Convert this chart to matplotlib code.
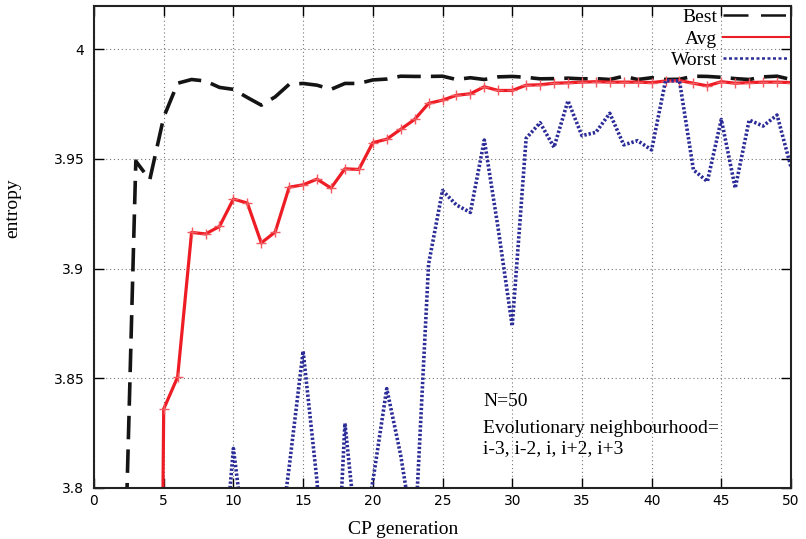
import numpy as np
import matplotlib
matplotlib.use('Agg')
import matplotlib.pyplot as plt
from matplotlib.lines import Line2D

# CP generation 1..50
generation = np.arange(1, 51)

best = [3.600, 3.712, 3.949, 3.9405, 3.969, 3.9845, 3.9862, 3.9855, 3.9826, 3.9817,
        3.978, 3.9745, 3.9783, 3.984, 3.9844, 3.9836, 3.9817, 3.9844, 3.9844, 3.986,
        3.9864, 3.9877, 3.9876, 3.9876, 3.9877, 3.9862, 3.987, 3.9862, 3.9874, 3.9876,
        3.9872, 3.9865, 3.9866, 3.9868, 3.9865, 3.9866, 3.9862, 3.9877, 3.9862, 3.987,
        3.9862, 3.9863, 3.9877, 3.9876, 3.9872, 3.9866, 3.9862, 3.9874, 3.9877, 3.9862]

avg = [2.95, 3.02, 3.08, 3.12, 3.836, 3.8506, 3.9165, 3.9158, 3.9192, 3.9317,
       3.9299, 3.9117, 3.9167, 3.9371, 3.9382, 3.9408, 3.9367, 3.9455, 3.9452, 3.9574,
       3.959, 3.9635, 3.968, 3.9753, 3.9768, 3.979, 3.9797, 3.9829, 3.9812, 3.9812,
       3.9836, 3.9838, 3.9845, 3.9847, 3.985, 3.9852, 3.985, 3.985, 3.985, 3.9848,
       3.9855, 3.9857, 3.9845, 3.9833, 3.9852, 3.9845, 3.9848, 3.985, 3.985, 3.9848]

worst = [3.60, 3.62, 3.64, 3.62, 3.66, 3.68, 3.70, 3.72, 3.743, 3.818,
         3.767, 3.74, 3.76, 3.8095, 3.8624, 3.803, 3.70, 3.8295, 3.768, 3.803,
         3.8453, 3.815, 3.775, 3.902, 3.9356, 3.929, 3.9256, 3.9586, 3.918, 3.8738,
         3.9594, 3.9665, 3.9553, 3.9765, 3.9606, 3.9621, 3.9708, 3.9564, 3.9583, 3.9541,
         3.9856, 3.9856, 3.945, 3.9397, 3.968, 3.9367, 3.9677, 3.965, 3.97, 3.9462]

x_ticks = np.arange(0, 51, 5)
y_ticks = [3.8, 3.85, 3.9, 3.95, 4.0]
y_tick_labels = ['3.8', '3.85', '3.9', '3.95', '4']

serif = 'Liberation Serif'
blue = '#2c2c98'
red = '#ee1d25'

fig = plt.figure(figsize=(8.06, 5.39), dpi=100)
ax = fig.add_axes([94 / 806, 51 / 539, 697 / 806, 482 / 539])

ax.plot(generation, best, color='#141414', lw=2.6, linestyle=(0, (6.5, 2.8)))
ax.plot(generation, avg, color=red, lw=2.3, marker='+', markersize=7,
        markeredgewidth=1.0, markeredgecolor='#f25a5f')
ax.plot(generation, worst, color=blue, lw=2.6, linestyle=(0, (0.65, 0.55)))

ax.set_xlim(0, 50)
ax.set_ylim(3.8, 4.0197)
ax.set_xticks(x_ticks)
ax.set_yticks(y_ticks)
ax.set_yticklabels(y_tick_labels)
ax.tick_params(direction='in', top=True, right=True, length=7, width=1,
               labelsize=10, pad=4)
ax.tick_params(axis='y', pad=7)
for lab in ax.get_xticklabels() + ax.get_yticklabels():
    lab.set_fontfamily('DejaVu Sans')

ax.grid(True, color='#777777', linestyle=(0, (1, 2.5)), linewidth=0.8)
for s in ax.spines.values():
    s.set_linewidth(1.5)
    s.set_color('#222222')

ax.set_xlabel('CP generation', fontfamily=serif, fontsize=14)
ax.xaxis.set_label_coords(0.443, -0.068)
ax.set_ylabel('entropy', fontfamily=serif, fontsize=14)
ax.yaxis.set_label_coords(-0.104, 0.58)

# annotation
ax.text(0.558, 0.170, 'N=50', transform=ax.transAxes, fontfamily=serif,
        fontsize=14, va='baseline')
ax.text(0.558, 0.114, 'Evolutionary neighbourhood=', transform=ax.transAxes,
        fontfamily=serif, fontsize=14, va='baseline')
ax.text(0.558, 0.0726, 'i-3, i-2, i, i+2, i+3', transform=ax.transAxes,
        fontfamily=serif, fontsize=14, va='baseline')

handles = [
    Line2D([], [], color='#141414', lw=1.8, linestyle=(0, (10, 5))),
    Line2D([], [], color=red, lw=1.5),
    Line2D([], [], color=blue, lw=1.8, linestyle=(0, (1.2, 1.0))),
]
leg = ax.legend(handles, ['Best', 'Avg', 'Worst'], loc='upper right',
                bbox_to_anchor=(0.997, 0.995), frameon=False, markerfirst=False,
                handlelength=3.4, handletextpad=0.3, labelspacing=0.2,
                borderpad=0, borderaxespad=0,
                prop={'family': serif, 'size': 14})

fig.savefig('out.png', dpi=100)
